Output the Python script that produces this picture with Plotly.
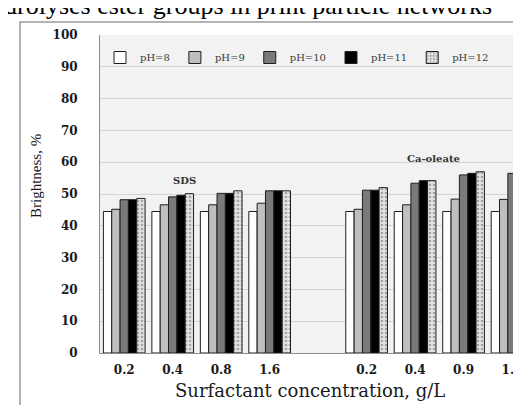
import plotly.graph_objects as go

# ---- data ----
group_names = ["SDS", "Ca-oleate"]
tick_labels = ["0.2", "0.4", "0.8", "1.6", "0.2", "0.4", "0.9", "1.8"]
series_names = ["pH=8", "pH=9", "pH=10", "pH=11", "pH=12"]
ph8 = [44.5, 44.5, 44.5, 44.5, 44.5, 44.5, 44.5, 44.5]
ph9 = [45.2, 46.6, 46.6, 47.1, 45.2, 46.6, 48.4, 48.3]
ph10 = [48.2, 49.1, 50.2, 51.0, 51.2, 53.4, 56.0, 56.5]
ph11 = [48.2, 49.6, 50.2, 51.0, 51.2, 54.2, 56.5, 56.5]
ph12 = [48.6, 50.1, 51.0, 51.0, 52.0, 54.2, 57.0, 57.0]
series_values = [ph8, ph9, ph10, ph11, ph12]
y_title = "Brightness, %"
x_title = "Surfactant concentration, g/L"
caption = "hydrolyses ester groups in print particle networks"

# positions: 4 categories, one empty slot, 4 categories
xpos = [i for i in range(4)] + [i + 5 for i in range(4)]

fills = ["#ffffff", "#bfbfbf", "#7a7a7a", "#000000", "#dedede"]
patterns = ["", "", "", "", "."]

fig = go.Figure()
for name, vals, fc, pat in zip(series_names, series_values, fills, patterns):
    mk = dict(color=fc, line=dict(color="#1e1e1e", width=1))
    if pat:
        mk["pattern"] = dict(shape=pat, fgcolor="#6a6a6a", bgcolor="#e2e2e2", size=4, solidity=0.35)
    fig.add_trace(go.Bar(x=xpos, y=vals, name=name, marker=mk))

L, T, B = 92, 27, 345
W, H = 521, 405
pw, ph = W - L, B - T

def px_x(p):
    return (p - L) / pw

def px_y(p):
    return (B - p) / ph

serif = "Liberation Serif"
wide_serif = "DejaVu Serif"

fig.update_layout(
    width=W, height=H,
    margin=dict(l=L, r=0, t=T, b=H - B, autoexpand=False),
    paper_bgcolor="#ffffff",
    plot_bgcolor="#f2f2f2",
    barmode="group",
    bargap=0.14,
    bargroupgap=0.0,
    font=dict(family=serif, color="#1a1a1a"),
    legend=dict(orientation="h", x=px_x(92), y=px_y(35), xanchor="left", yanchor="top",
                font=dict(size=10, color="#3a3a3a", family=wide_serif),
                bgcolor="rgba(0,0,0,0)", itemwidth=30, tracegroupgap=0),
    showlegend=True,
)

fig.update_xaxes(
    range=[-0.5, 8.35], automargin=False,
    tickmode="array", tickvals=xpos, ticktext=tick_labels,
    tickfont=dict(size=12, family=wide_serif, color="#1a1a1a", weight="bold"),
    showgrid=False, zeroline=False,
    showline=True, linecolor="#8c8c8c", linewidth=1,
    ticks="", ticklen=0, ticklabelstandoff=6,
)
fig.update_yaxes(
    range=[0, 100], dtick=10, automargin=False,
    tickfont=dict(size=12, family=wide_serif, color="#1a1a1a", weight="bold"),
    showgrid=True, gridcolor="#d4d4d4", gridwidth=1,
    zeroline=False, showline=True, linecolor="#8c8c8c", linewidth=1,
    ticks="", ticklen=0, ticklabelstandoff=19,
)

# axis titles
fig.add_annotation(x=px_x(302), y=px_y(382), xref="paper", yref="paper", text=x_title,
                   showarrow=False, xanchor="center", yanchor="middle",
                   font=dict(size=18, family=wide_serif, color="#1a1a1a"))
fig.add_annotation(x=px_x(28), y=px_y(168), xref="paper", yref="paper", text=y_title,
                   showarrow=False, textangle=-90, xanchor="center", yanchor="middle",
                   font=dict(size=15, family=serif, color="#1a1a1a"))

# group labels
fig.add_annotation(x=1.25, y=54.4, xref="x", yref="y", text=group_names[0], showarrow=False,
                   font=dict(size=10, family=wide_serif, color="#333333", weight="bold"), yanchor="middle")
fig.add_annotation(x=6.39, y=61.3, xref="x", yref="y", text=group_names[1], showarrow=False,
                   font=dict(size=10, family=wide_serif, color="#333333", weight="bold"), yanchor="middle")

# outer frame of the chart
fig.add_shape(type="rect", xref="paper", yref="paper",
              x0=px_x(12), x1=px_x(560), y0=px_y(440), y1=px_y(14),
              line=dict(color="#9a9a9a", width=1.5), fillcolor="rgba(0,0,0,0)", layer="below")

# cut-off caption text at the top
fig.add_annotation(x=px_x(486), y=px_y(14), xref="paper", yref="paper",
                   text=caption, showarrow=False,
                   xanchor="right", yanchor="bottom",
                   font=dict(size=26, family=serif, color="#000000"))

fig.write_html("out.html")
